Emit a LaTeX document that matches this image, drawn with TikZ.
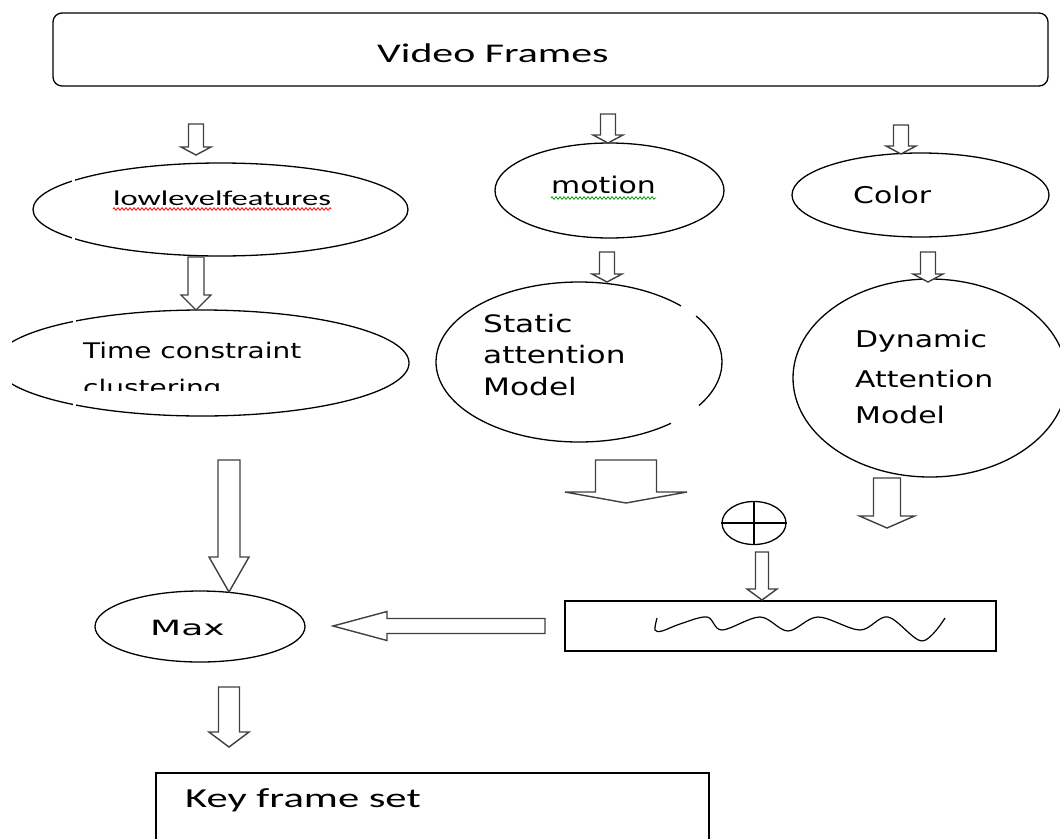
\documentclass[tikz,border=0pt]{standalone}
\usepackage{fontspec}
\usepackage{graphicx}
\usetikzlibrary{shapes.geometric,calc,decorations.pathmorphing}
\newfontfamily\calw[FakeStretch=1.55]{Carlito}
\newfontfamily\verd[FakeStretch=1.3]{DejaVu Sans}

% hollow block arrow pointing down: #1 tail, #2 tip, #3 shaft half width, #4 head half width, #5 head length
\newcommand\blockdown[5]{%
  \draw[hollow] let \p1=(#1), \p2=(#2) in
    (\x2-#3,\y1) -- (\x2+#3,\y1) -- (\x2+#3,\y2+#5) -- (\x2+#4,\y2+#5) -- (\x2,\y2)
    -- (\x2-#4,\y2+#5) -- (\x2-#3,\y2+#5) -- cycle;}
% hollow block arrow pointing left
\newcommand\blockleft[5]{%
  \draw[hollow] let \p1=(#1), \p2=(#2) in
    (\x1,\y2+#3) -- (\x1,\y2-#3) -- (\x2+#5,\y2-#3) -- (\x2+#5,\y2-#4) -- (\x2,\y2)
    -- (\x2+#5,\y2+#4) -- (\x2+#5,\y2+#3) -- cycle;}

\tikzset{
  outline/.style={draw=black, line width=1.3pt},
  oval/.style={ellipse, outline, inner sep=0pt},
  hollow/.style={draw=black!75, line width=1.4pt, fill=white, line join=miter},
  lbl/.style={anchor=base west, inner sep=0pt, text=black},
  calfont/.style={font=\calw\fontsize{#1}{#1}\selectfont},
  verfont/.style={font=\verd\fontsize{#1}{#1}\selectfont},
  squiggle/.style={line width=0.8pt, decorate, decoration={zigzag, segment length=4pt, amplitude=1.3pt}},
}

\begin{document}
\begin{tikzpicture}[x=1pt,y=-1pt]
\useasboundingbox (0,0) rectangle (1060,838);
\clip (0,0) rectangle (1060,838);
\fill[white] (0,0) rectangle (1060,838);

% input box
\node[outline, rounded corners=9pt, minimum width=995pt, minimum height=73pt, inner sep=0pt] (frames) at (550.5,49.5) {};
\node[lbl, calfont=27] (frames-t) at (377,62) {Video Frames};

% feature ellipses
\node[oval, minimum width=375pt, minimum height=93pt] (lowlevel) at (220.5,209.5) {};
\fill[white] (72,150) rectangle (75,270);
\node[lbl, calfont=21] (lowlevel-t) at (113,205) {lowlevelfeatures};
\draw[squiggle, red] ($(lowlevel-t.base west)+(0,4)$) -- ($(lowlevel-t.base east)+(0,4)$);

\node[oval, minimum width=229pt, minimum height=95pt] (motion) at (609.5,190.5) {};
\node[lbl, verfont=23] (motion-t) at (551,193) {motion};
\draw[squiggle, green!60!black] ($(motion-t.base west)+(0,5)$) -- ($(motion-t.base east)+(0,5)$);

\node[oval, minimum width=257pt, minimum height=84pt] (color) at (920.5,195) {};
\node[lbl, verfont=23] (color-t) at (853,203) {Color};

% clustering ellipse, cut at the left
\begin{scope}
  \clip (12,0) rectangle (1060,838);
  \node[oval, minimum width=414pt, minimum height=106pt] (time) at (202,363) {};
\end{scope}
\fill[white] (73,300) rectangle (76,430);
\begin{scope}
  \clip (0,0) rectangle (1060,390);
  \node[lbl, verfont=21.5] (time-t1) at (83,358) {Time constraint};
  \node[lbl, verfont=21.5] (time-t2) at (83,395) {clustering};
\end{scope}

% static attention ellipse, drawn with two breaks
\node[ellipse, minimum width=286pt, minimum height=160pt, inner sep=0pt] (static) at (579,362) {};
\draw[outline] (static.center) ++(44.5:143pt and 80pt) arc[start angle=44.5, end angle=310, x radius=143pt, y radius=80pt];
\draw[outline] (static.center) ++(-33:143pt and 80pt) arc[start angle=-33, end angle=35, x radius=143pt, y radius=80pt];
\node[lbl, verfont=24] (static-t1) at (483,332) {Static};
\node[lbl, verfont=24] (static-t2) at (483,363) {attention};
\node[lbl, verfont=24] (static-t3) at (483,395) {Model};

% dynamic attention ellipse
\node[oval, minimum width=274pt, minimum height=198pt] (dynamic) at (930,378) {};
\node[lbl, verfont=23] (dynamic-t1) at (855,347) {Dynamic};
\node[lbl, verfont=23] (dynamic-t2) at (855,387) {Attention};
\node[lbl, verfont=23] (dynamic-t3) at (855,423) {Model};

% fusion symbol
\node[oval, minimum width=64pt, minimum height=43pt] (plus) at (754,523) {};
\draw[outline] (plus.north) -- (plus.south) (plus.west) -- (plus.east);

% fused attention curve
\node[draw=black, line width=1.6pt, minimum width=431pt, minimum height=50pt, inner sep=0pt] (signal) at (780.5,626) {};
\draw[line width=1.2pt] plot[smooth, tension=0.55] coordinates {(657,618) (655,630) (662,631) (680,624) (707,617) (722,630) (760,617) (788,631) (818,617) (860,630) (888,617) (922,641) (945,618)};

% max and output
\node[oval, minimum width=210pt, minimum height=71pt] (max) at (200,626.5) {};
\node[lbl, verfont=21] (max-t) at (150,635) {\scalebox{1.32}[1]{Max}};

\node[draw=black, line width=1.6pt, minimum width=553pt, minimum height=90pt, inner sep=0pt, anchor=north west] (keyset) at (155,772) {};
\node[lbl, calfont=27.5] (keyset-t) at (185,807) {Key frame set};

% arrow end points
\coordinate (f-ll) at (196,124);   \coordinate (ll-in) at (196,155);
\coordinate (f-mo) at (608,114);   \coordinate (mo-in) at (608,143);
\coordinate (f-co) at (901,125);   \coordinate (co-in) at (901,154);
\coordinate (ll-out) at (196,257); \coordinate (tc-in) at (196,310);
\coordinate (mo-out) at (607,252); \coordinate (st-in) at (607,282);
\coordinate (co-out) at (928,252); \coordinate (dy-in) at (928,282);
\coordinate (tc-out) at (229,460); \coordinate (mx-in) at (229,592);
\coordinate (st-out) at (626,460); \coordinate (st-end) at (626,503);
\coordinate (dy-out) at (887,478); \coordinate (dy-end) at (887,528);
\coordinate (pl-out) at (762,552); \coordinate (sg-in) at (762,600);
\coordinate (sg-out) at (545,626); \coordinate (mx-side) at (333,626);
\coordinate (mx-out) at (229,687); \coordinate (ks-in) at (229,747);

% block arrows
\blockdown{f-ll}{ll-in}{7.5pt}{15pt}{8pt}
\blockdown{f-mo}{mo-in}{7.5pt}{15pt}{8pt}
\blockdown{f-co}{co-in}{7.5pt}{15pt}{8pt}
\blockdown{ll-out}{tc-in}{8pt}{15pt}{15pt}
\blockdown{mo-out}{st-in}{7.5pt}{15pt}{8pt}
\blockdown{co-out}{dy-in}{7.5pt}{15pt}{8pt}
\blockdown{tc-out}{mx-in}{11pt}{20pt}{35pt}
\blockdown{st-out}{st-end}{30.5pt}{61pt}{11pt}
\blockdown{dy-out}{dy-end}{13.5pt}{27.5pt}{12pt}
\blockdown{pl-out}{sg-in}{6.5pt}{15pt}{11pt}
\blockdown{mx-out}{ks-in}{10.5pt}{20pt}{15pt}
\blockleft{sg-out}{mx-side}{7.5pt}{14.5pt}{54pt}
\end{tikzpicture}
\end{document}
